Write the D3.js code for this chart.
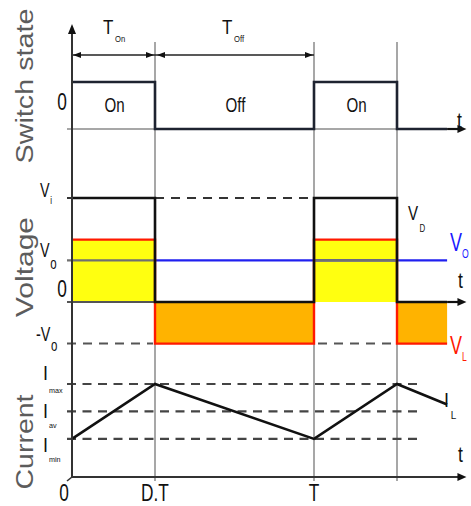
<!DOCTYPE html>
<html><head><meta charset="utf-8">
<script src="https://cdn.jsdelivr.net/npm/d3@7"></script>
<style>body{margin:0;background:#fff}</style>
</head><body>
<svg id="c" width="471" height="506"></svg>
<script>
// Buck converter waveforms over one and a half switching periods (time in units of T)
const duty = 0.343;
const edges = [0, duty, 1, 1 + duty, 1.55];        // switching instants and end of trace
const tAxisEnd = 1.63;
const switchState = [1, 0, 1, 0];                  // 1 = on, 0 = off, per interval
const switchText = ["On", "Off", "On"];
const vInput = 1.0, vOut = 0.4;
const vDiode = [vInput, 0, vInput, 0];             // V_D per interval
const vInductor = [vInput - vOut, -vOut, vInput - vOut, -vOut]; // V_L per interval
const iInductor = [0.41, 1.0, 0.41, 1.0, 0.78];    // I_L at each edge
const iMax = 1.0, iAv = 0.705, iMin = 0.41;
const timeTicks = [[0, "0"], [duty, "D.T"], [1, "T"]];

const svg = d3.select("#c");
const FONT = "'Liberation Sans', Arial, sans-serif";

const x = d3.scaleLinear().domain([0, 1]).range([72, 314]);
const ySw = d3.scaleLinear().domain([0, 1]).range([129, 82]);
const yV = d3.scaleLinear().domain([0, 1]).range([302, 198]);
const yI = d3.scaleLinear().domain([0, 1]).range([477, 384]);

const x0 = x(0);
const lastEdge = edges[edges.length - 1];

function line(x1, y1, x2, y2, stroke, w, dash) {
  const l = svg.append("line").attr("x1", x1).attr("y1", y1).attr("x2", x2).attr("y2", y2)
    .attr("stroke", stroke).attr("stroke-width", w);
  if (dash) l.attr("stroke-dasharray", dash);
  return l;
}
function arrowHead(tx, ty, dir, size = 9, half = 3.5, fill = "#111") {
  // dir: "right", "left", "up"
  let pts;
  if (dir === "right") pts = [[tx, ty], [tx - size, ty - half], [tx - size, ty + half]];
  else if (dir === "left") pts = [[tx, ty], [tx + size, ty - half], [tx + size, ty + half]];
  else pts = [[tx, ty], [tx - half, ty + size], [tx + half, ty + size]];
  svg.append("polygon").attr("points", pts.map(p => p.join(",")).join(" ")).attr("fill", fill);
}
// label with optional subscript; horizontally condensed lettering
function label(px, py, main, opt = {}) {
  const sx = opt.sx ?? 0.72;
  const g = svg.append("g").attr("transform", `translate(${px},${py}) scale(${sx},1)`);
  const t = g.append("text").attr("font-family", FONT).attr("font-size", opt.size ?? 20)
    .attr("fill", opt.color ?? "#111").attr("text-anchor", opt.anchor ?? "start");
  t.append("tspan").text(main);
  if (opt.sub) {
    t.append("tspan").attr("font-size", opt.subSize ?? 10).attr("dx", opt.subDx ?? 1)
      .attr("dy", opt.subDy ?? 10).text(opt.sub);
  }
  return t;
}

// ---- interval rectangles for the inductor voltage ----
const intervals = d3.range(4).map(i => ({ a: edges[i], b: edges[i + 1], vl: vInductor[i] }));

// ---- time markers ----
[duty, 1, 1 + duty].forEach(t => line(x(t), 42, x(t), 481, "#8a8a8a", 1.5));

// ---- top duration arrows ----
line(x0, 55, x(1), 55, "#222", 1.6);
arrowHead(x0 + 1, 55, "left", 8, 3);
arrowHead(x(duty) - 1, 55, "right", 8, 3);
arrowHead(x(duty) + 2, 55, "left", 8, 3);
arrowHead(x(1) - 1, 55, "right", 8, 3);
label(103, 34, "T", { size: 20, sx: 0.85, sub: "On", subSize: 9, subDy: 8, subDx: 2 });
label(222, 34, "T", { size: 20, sx: 0.85, sub: "Off", subSize: 9, subDy: 8, subDx: 2 });

// ---- switch state panel ----
line(67, ySw(0), x(lastEdge), ySw(0), "#8a8a8a", 1.5);
const stepPts = switchState.map((s, i) => [edges[i], s]).concat([[lastEdge, switchState[3]]]);
svg.append("path").datum(stepPts)
  .attr("d", d3.line().x(d => x(d[0])).y(d => ySw(d[1])).curve(d3.curveStepAfter))
  .attr("fill", "none").attr("stroke", "#1e2330").attr("stroke-width", 2.6);
line(x(lastEdge), ySw(0), x(tAxisEnd) - 6, ySw(0), "#111", 2.2);
arrowHead(x(tAxisEnd), ySw(0), "right", 9, 4);
label(62, 110, "0", { size: 24, anchor: "middle" });
switchText.forEach((s, i) => {
  label((x(edges[i]) + x(edges[i + 1])) / 2 + 1, 112, s, { size: 21, anchor: "middle" });
});
label(457, 128, "t", { size: 22, sx: 0.8 });

// ---- voltage panel ----
// filled areas of V_L
intervals.forEach(d => {
  svg.append("rect").attr("x", x(d.a)).attr("width", x(d.b) - x(d.a))
    .attr("y", d.vl > 0 ? yV(d.vl) : yV(0)).attr("height", Math.abs(yV(d.vl) - yV(0)))
    .attr("fill", d.vl > 0 ? "#ffff10" : "#ffb300");
});
// V_O level: blue outside the yellow blocks, gray across them
line(x(duty), yV(vOut), x(lastEdge), yV(vOut), "#2020f0", 2.4);
intervals.filter(d => d.vl > 0).forEach(d => line(d.a === 0 ? 67 : x(d.a), yV(vOut), x(d.b), yV(vOut), "#707070", 2.2));
// dashed reference levels
line(x(duty), yV(vInput), x(1), yV(vInput), "#333", 2, "9,7");
intervals.filter(d => d.vl > 0).forEach(d => line(d.a === 0 ? 67 : x(d.a) + 4, yV(-vOut), x(d.b) - 2, yV(-vOut), "#555", 2, "9,7"));
// axis ticks
line(67, yV(vInput), x0, yV(vInput), "#333", 2);
line(67, yV(0), x(duty), yV(0), "#555", 2);
// V_L trace
const vlPts = vInductor.map((v, i) => [edges[i], v]).concat([[lastEdge, vInductor[3]]]);
svg.append("path").datum(vlPts)
  .attr("d", d3.line().x(d => x(d[0])).y(d => yV(d[1])).curve(d3.curveStepAfter))
  .attr("fill", "none").attr("stroke", "#ff1a00").attr("stroke-width", 2.4);
// V_D trace
const vdPts = vDiode.map((v, i) => [edges[i], v]).concat([[lastEdge, vDiode[3]]]);
svg.append("path").datum(vdPts)
  .attr("d", d3.line().x(d => x(d[0])).y(d => yV(d[1])).curve(d3.curveStepAfter))
  .attr("fill", "none").attr("stroke", "#111").attr("stroke-width", 2.6);
line(x(lastEdge), yV(0), x(tAxisEnd) - 6, yV(0), "#111", 2.2);
arrowHead(x(tAxisEnd), yV(0), "right", 9, 4);

label(40, 197, "V", { size: 20, sub: "i", subSize: 11, subDy: 7, subDx: 1 });
label(40, 257, "V", { size: 20, sub: "o", subSize: 16, subDy: 12, subDx: 1 });
label(62, 297, "0", { size: 24, anchor: "middle" });
label(36, 341, "-V", { size: 20, sub: "o", subSize: 16, subDy: 10, subDx: 1 });
label(408, 220, "V", { size: 21, sub: "D", subSize: 11, subDy: 12, subDx: 2 });
label(450, 251, "V", { size: 25, color: "#1a1aff", sub: "O", subSize: 12, subDy: 7, subDx: 0 });
label(458, 288, "t", { size: 22, sx: 0.8 });
label(450, 354, "V", { size: 25, color: "#ff1a00", sub: "L", subSize: 12, subDy: 7, subDx: 0 });

// ---- current panel ----
[iMax, iAv, iMin].forEach(v => line(67, yI(v), 420, yI(v), "#444", 2.2, "9,6.5"));
svg.append("path").datum(iInductor.map((v, i) => [edges[i], v]))
  .attr("d", d3.line().x(d => x(d[0])).y(d => yI(d[1])))
  .attr("fill", "none").attr("stroke", "#111").attr("stroke-width", 2.6);
line(x0, yI(0), x(tAxisEnd) - 6, yI(0), "#333", 2);
line(x0, yI(0), x0 - 5, yI(0) + 4, "#333", 1.6);
arrowHead(x(tAxisEnd), yI(0), "right", 9, 4);
label(43, 380, "I", { size: 20, sx: 0.9, sub: "max", subSize: 8, subDy: 13, subDx: 1 });
label(43, 418, "I", { size: 20, sx: 0.9, sub: "av", subSize: 8, subDy: 10, subDx: 1 });
label(43, 452, "I", { size: 20, sx: 0.9, sub: "min", subSize: 8, subDy: 10, subDx: 1 });
label(444, 407, "I", { size: 20, sx: 0.9, sub: "L", subSize: 11, subDy: 12, subDx: 2 });
label(458, 462, "t", { size: 22, sx: 0.8 });

// ---- vertical axis ----
line(x0, 30, x0, yI(0), "#333", 2);
arrowHead(x0, 24, "up", 10, 4);

// time tick labels
timeTicks.forEach(([t, s]) => label(x(t) + (t === 0 ? -8 : 0), 501, s, { size: 24, anchor: "middle" }));

// ---- panel titles ----
[["Switch state", 86, 155], ["Voltage", 267, 100], ["Current", 442, 95]].forEach(([s, cy, len]) => {
  svg.append("text").attr("transform", `translate(33,${cy}) rotate(-90)`)
    .attr("font-family", FONT).attr("font-size", 23).attr("fill", "#5c5c5c")
    .attr("text-anchor", "middle").attr("textLength", len).attr("lengthAdjust", "spacingAndGlyphs")
    .text(s);
});
</script>
</body></html>
